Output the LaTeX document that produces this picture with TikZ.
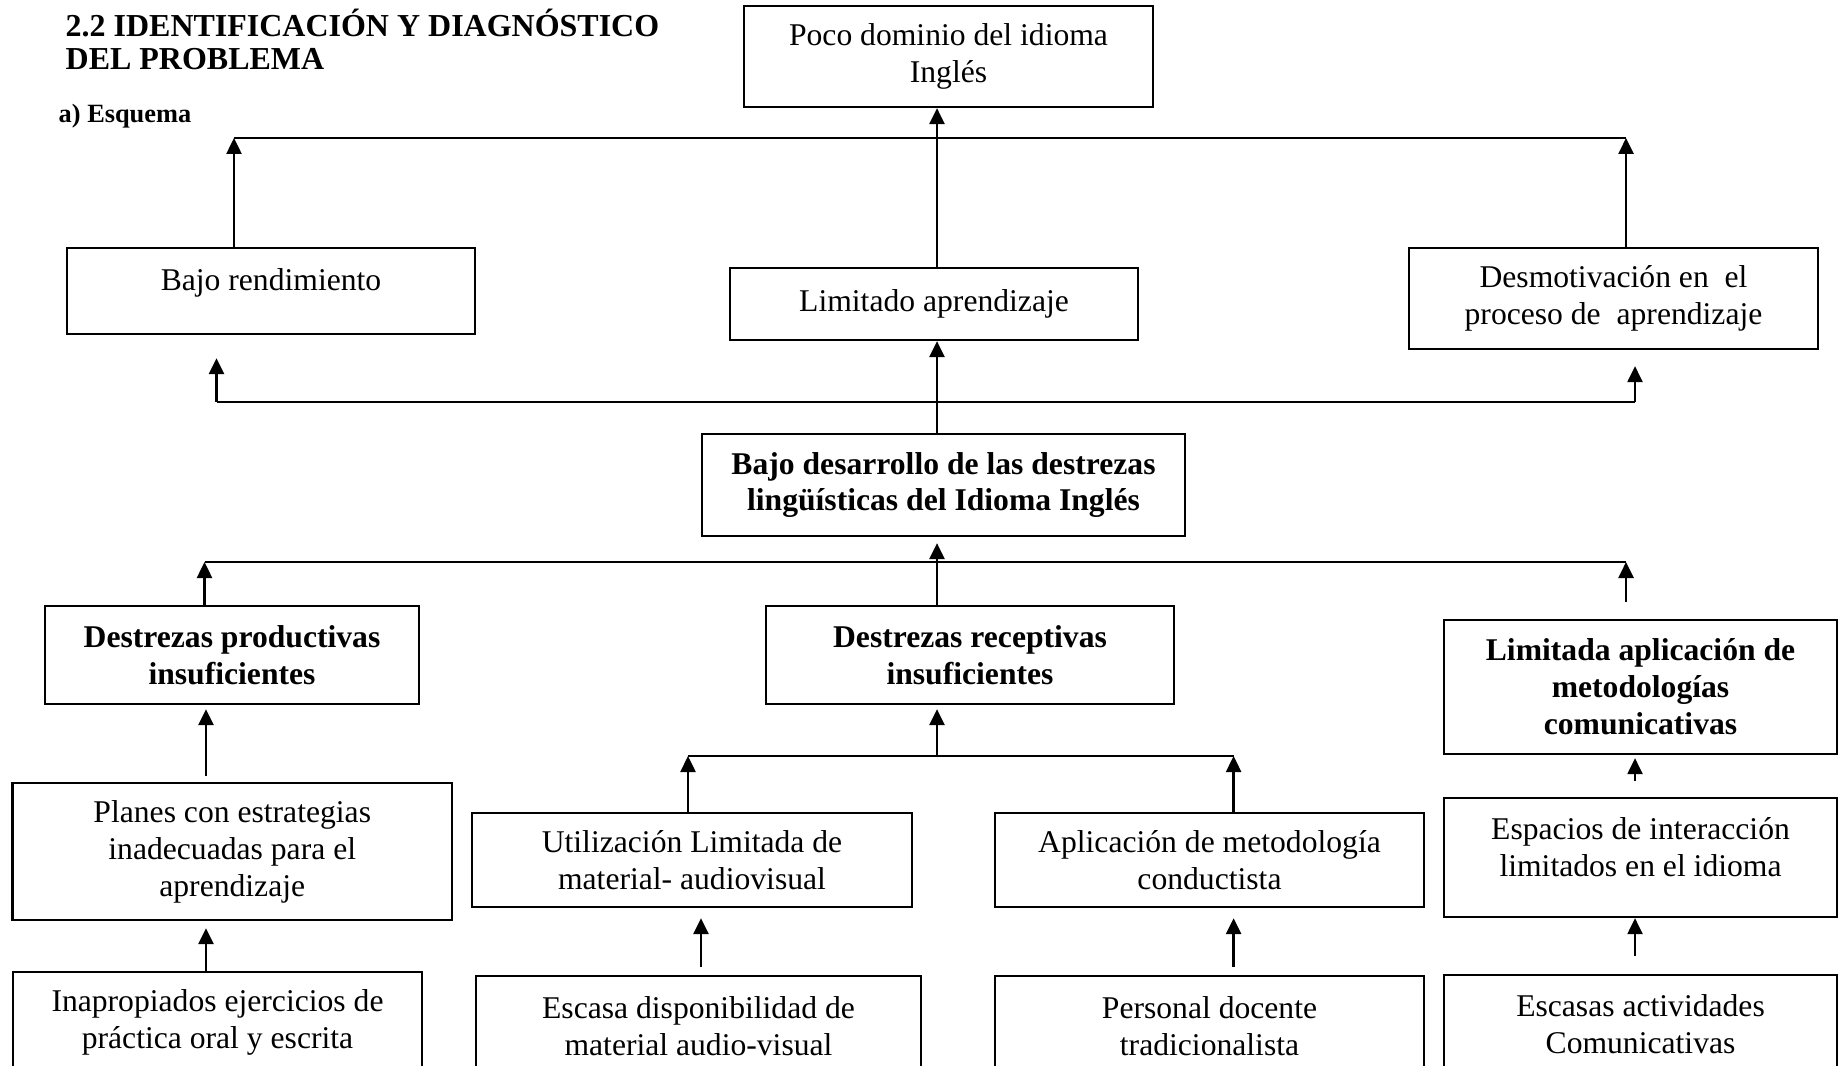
\documentclass[tikz,border=0pt]{standalone}
\usepackage{fontspec}
\setmainfont{Liberation Serif}
\usetikzlibrary{arrows.meta}

% raises a line of text inside its box
\newcommand{\alza}[1]{\rule[-#1]{0pt}{#1}}

\begin{document}
\begin{tikzpicture}[
  every node/.style={font=\fontsize{9}{10.5}\selectfont},
  caja/.style={draw,line width=0.65pt,align=center,inner sep=2pt},
  cajaneg/.style={caja,font=\fontsize{9}{10.5}\selectfont\bfseries},
  titulo/.style={anchor=base west,inner sep=0pt,font=\fontsize{9.1}{9.5}\selectfont\bfseries},
  bus/.style={line width=0.7pt},
  flecha/.style={line width=0.7pt,-{Triangle[length=1.6mm,width=1.5mm]}}
]

\useasboundingbox (0,0) rectangle (18.43,10.65);
\clip (0,0) rectangle (18.43,10.65);

% ===================== TITLE =====================
\node[titulo] (tit1) at (0.65,10.28) {2.2 IDENTIFICACIÓN Y DIAGNÓSTICO};
\node[titulo] (tit2) at (0.65,9.95) {DEL PROBLEMA};
\node[titulo,font=\fontsize{7.5}{7.5}\selectfont\bfseries] (esq) at (0.58,9.42) {a) Esquema};

% ===================== EFFECTS =====================
\node[caja,minimum width=4.09cm,minimum height=1.01cm] (poco) at (9.485,10.085) {Poco dominio del idioma\\Inglés};
\node[caja,minimum width=4.08cm,minimum height=0.86cm] (rend) at (2.71,7.74) {Bajo rendimiento\alza{6.5pt}};
\node[caja,minimum width=4.08cm,minimum height=0.72cm] (limap) at (9.34,7.61) {Limitado aprendizaje};
\node[caja,minimum width=4.09cm,minimum height=1.01cm] (desmot) at (16.135,7.665) {Desmotivación en\ \ el\\proceso de\ \ aprendizaje};

% ===================== PROBLEM =====================
\node[cajaneg,minimum width=4.83cm,minimum height=1.02cm] (bajo) at (9.435,5.80) {Bajo desarrollo de las destrezas\\lingüísticas del Idioma Inglés};

% ===================== CAUSES =====================
\node[cajaneg,minimum width=3.74cm,minimum height=0.98cm] (prod) at (2.32,4.10) {Destrezas productivas\\insuficientes};
\node[cajaneg,minimum width=4.08cm,minimum height=0.98cm] (recep) at (9.70,4.10) {Destrezas receptivas\\insuficientes};
\node[cajaneg,minimum width=3.93cm,minimum height=1.34cm] (metod) at (16.405,3.78) {Limitada aplicación de\\metodologías\\comunicativas};

\node[caja,minimum width=4.395cm,minimum height=1.37cm] (planes) at (2.3225,2.135) {Planes con estrategias\\inadecuadas para el\\aprendizaje};
\node[caja,minimum width=4.40cm,minimum height=0.94cm] (util) at (6.92,2.05) {Utilización Limitada de\\material- audiovisual};
\node[caja,minimum width=4.29cm,minimum height=0.94cm] (aplic) at (12.095,2.05) {Aplicación de metodología\\conductista};
\node[caja,minimum width=3.93cm,minimum height=1.19cm] (espac) at (16.405,2.075) {Espacios de interacción\\limitados en el idioma\alza{6.2pt}};

\node[caja,minimum width=4.09cm,minimum height=1.01cm] (inapr) at (2.175,0.425) {Inapropiados ejercicios de\\práctica oral y escrita};
\node[caja,minimum width=4.45cm,minimum height=1.00cm] (escasa) at (6.985,0.39) {Escasa disponibilidad de\\material audio-visual};
\node[caja,minimum width=4.29cm,minimum height=1.00cm] (docente) at (12.095,0.39) {Personal docente\\tradicionalista};
\node[caja,minimum width=3.93cm,minimum height=0.98cm] (activ) at (16.405,0.41) {Escasas actividades\\Comunicativas};

% ===================== BUS POINTS =====================
\coordinate (mid) at (9.37,0);
\coordinate (colA) at (2.06,0);
\coordinate (colB) at (7.01,0);
\coordinate (b1l) at (2.34,9.27);   \coordinate (b1r) at (16.26,9.27);
\coordinate (b2l) at (2.165,6.63);  \coordinate (b2r) at (16.35,6.63);
\coordinate (b3l) at (2.045,5.03);  \coordinate (b3r) at (16.26,5.03);
\coordinate (b4l) at (6.88,3.09);   \coordinate (b4r) at (12.336,3.09);

% effects -> top
\draw[bus] (b1l) -- (b1r);
\draw[flecha] (rend.north -| b1l) -- (b1l);
\draw[flecha] (desmot.north -| b1r) -- (b1r);
\draw[flecha] (limap.north -| mid) -- (poco.south -| mid);

% problem -> effects
\draw[bus] (b2l) -- (b2r);
\draw[flecha,shorten >=2.3mm] (b2l) -- (rend.south -| b2l);
\draw[flecha,shorten >=1.6mm] (b2r) -- (desmot.south -| b2r);
\draw[flecha] (bajo.north -| mid) -- (limap.south -| mid);

% causes -> problem
\draw[bus] (b3l) -- (b3r);
\draw[flecha] (prod.north -| b3l) -- (b3l);
\draw[flecha,shorten <=1.7mm] (metod.north -| b3r) -- (b3r);
\draw[flecha,shorten >=0.6mm] (recep.north -| mid) -- (bajo.south -| mid);

% sub-causes
\draw[flecha,shorten <=0.6mm,shorten >=0.4mm] (planes.north -| colA) -- (prod.south -| colA);
\draw[flecha,shorten >=0.7mm] (inapr.north -| colA) -- (planes.south -| colA);

\draw[bus] (b4l) -- (b4r);
\draw[flecha] (util.north -| b4l) -- (b4l);
\draw[flecha] (aplic.north -| b4r) -- (b4r);
\draw[flecha,shorten >=0.4mm] (b4l -| mid) -- (recep.south -| mid);
\draw[flecha,shorten <=0.8mm,shorten >=1mm] (escasa.north -| colB) -- (util.south -| colB);
\draw[flecha,shorten <=0.8mm,shorten >=1mm] (docente.north -| b4r) -- (aplic.south -| b4r);

\draw[flecha,shorten <=1.6mm,shorten >=0.3mm] (espac.north -| b2r) -- (metod.south -| b2r);
\draw[flecha,shorten <=1.8mm] (activ.north -| b2r) -- (espac.south -| b2r);

\end{tikzpicture}
\end{document}
